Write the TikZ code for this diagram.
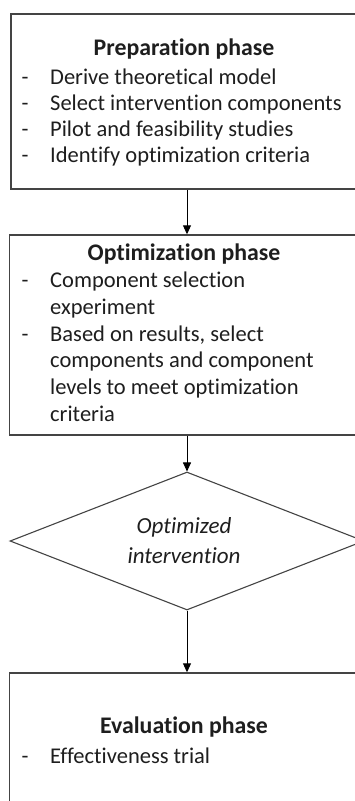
\documentclass[tikz,border=0pt]{standalone}
\usepackage{fontspec}
\setmainfont[Ligatures=NoCommon]{Carlito}
\usetikzlibrary{arrows.meta,shapes.geometric}
\definecolor{linegray}{HTML}{444444}
\definecolor{txtgray}{HTML}{1E1E1E}
\begin{document}
\begin{tikzpicture}[x=1pt,y=-1pt,
  phasebox/.style={draw=linegray,line width=1.4pt,rectangle,inner sep=0pt,fill=none},
  decision/.style={draw=linegray,line width=1.1pt,diamond,inner sep=0pt,aspect=2.5},
  txt/.style={inner sep=0pt,text=txtgray,font=\fontsize{22.5}{26}\selectfont},
  ttl/.style={txt,anchor=base,font=\fontsize{23.8}{26}\selectfont\bfseries},
  dashmark/.style={txt,anchor=base},
  item/.style={txt,anchor=base west},
  flow/.style={draw=black,line width=0.9pt,-{Triangle[length=9pt,width=8pt]}}
]
\useasboundingbox (0,0) rectangle (354,801);
\fill[white] (0,0) rectangle (354,801);

% boxes
\node[phasebox,minimum width=352pt,minimum height=175pt] (prep) at (187,101.5) {};
\node[phasebox,minimum width=355pt,minimum height=200pt] (opt) at (187,335) {};
\node[decision,minimum width=354pt,minimum height=138pt] (dec) at (187,541) {};
\node[phasebox,minimum width=355pt,minimum height=187pt] (eval) at (187,766.5) {};

% preparation text
\node[ttl] (prepT) at (184,55) {Preparation phase};
\node[dashmark] (pd1) at (25,84) {-};
\node[item] (pi1) at (50,84) {Derive theoretical model};
\node[dashmark] (pd2) at (25,110) {-};
\node[item] (pi2) at (50,110) {Select intervention components};
\node[dashmark] (pd3) at (25,136) {-};
\node[item] (pi3) at (50,136) {Pilot and feasibility studies};
\node[dashmark] (pd4) at (25,162) {-};
\node[item] (pi4) at (50,162) {Identify optimization criteria};

% optimization text
\node[ttl] (optT) at (184,260) {Optimization phase};
\node[dashmark] (od1) at (25,287) {-};
\node[item] (oi1) at (50,287) {Component selection};
\node[item] (oi1b) at (50,314) {experiment};
\node[dashmark] (od2) at (25,341) {-};
\node[item] (oi2) at (50,341) {Based on results, select};
\node[item] (oi2b) at (50,367) {components and component};
\node[item] (oi2c) at (50,394) {levels to meet optimization};
\node[item] (oi2d) at (50,421) {criteria};

% decision text
\node[txt,anchor=base,font=\fontsize{23}{26}\selectfont\itshape] (decT1) at (184,533) {Optimized};
\node[txt,anchor=base,font=\fontsize{23}{26}\selectfont\itshape] (decT2) at (184,563) {intervention};

% evaluation text
\node[ttl] (evalT) at (184,733) {Evaluation phase};
\node[dashmark] (ed1) at (25,763) {-};
\node[item] (ei1) at (50,763) {Effectiveness trial};

% connectors
\draw[flow] (prep.south) -- (opt.north);
\draw[flow] (opt.south) -- (dec.north);
\draw[flow] (dec.south) -- (eval.north);
\end{tikzpicture}
\end{document}
